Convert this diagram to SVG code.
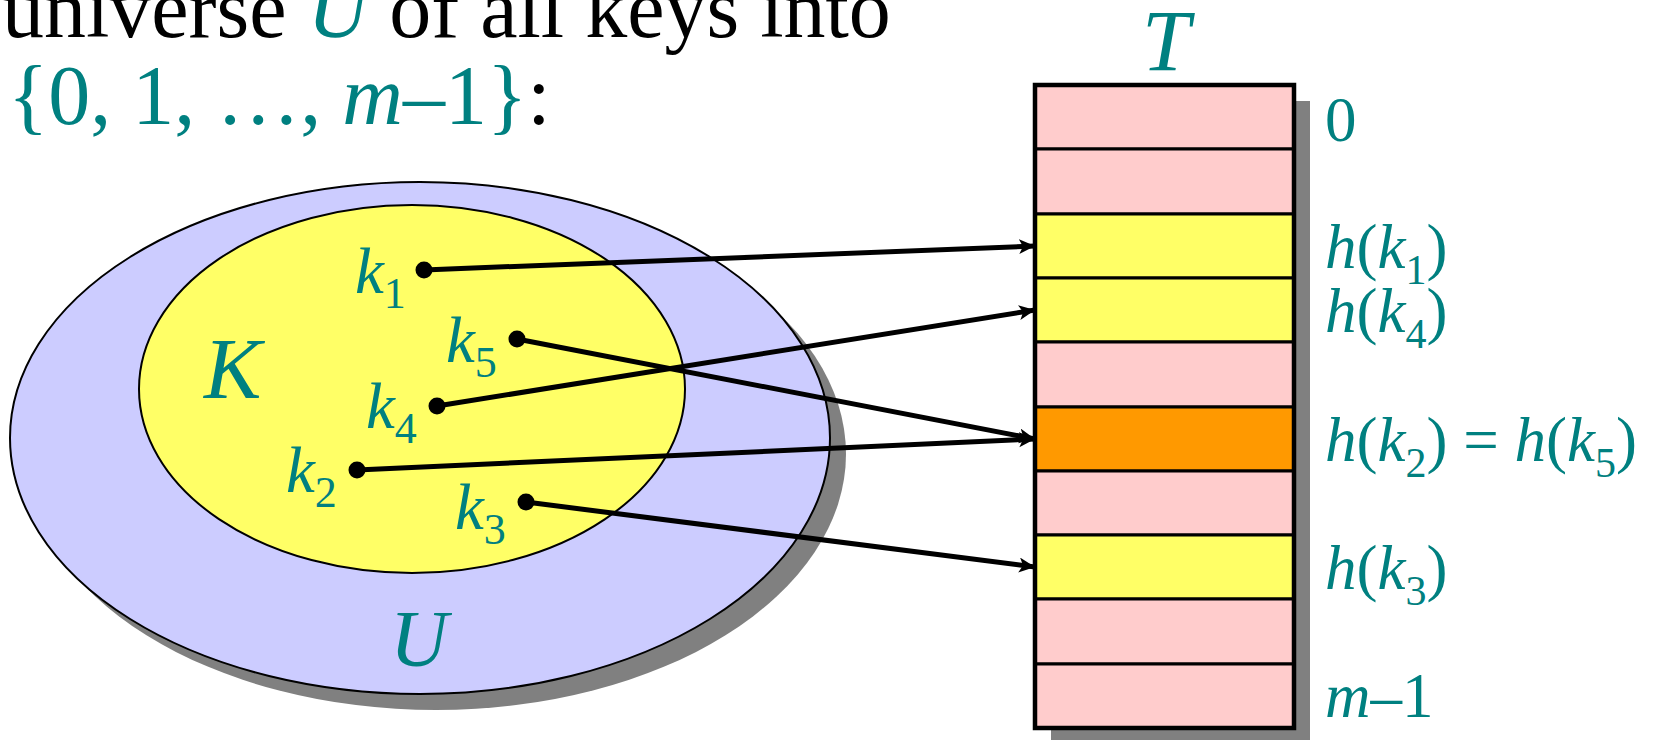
<svg xmlns="http://www.w3.org/2000/svg" width="1653" height="740" viewBox="0 0 1653 740">
<style>
.t{font-family:"Liberation Serif","Times New Roman",serif;}
.teal{fill:#008080;}
.blk{fill:#000;}
.it{font-style:italic;}
.lbl{font-size:63px;}
.key{font-size:65px;}
.row{stroke:#000;stroke-width:3;}
.conn{stroke:#000;stroke-width:5;fill:none;marker-end:url(#ah);}
</style>
<defs>
<marker id="ah" markerWidth="18" markerHeight="16" refX="16" refY="7.5" orient="auto" markerUnits="userSpaceOnUse">
<path d="M0,0 L16,7.5 L0,15 L4,7.5 Z" fill="#000"/>
</marker>
</defs>
<rect width="1653" height="740" fill="#fff"/>

<g id="title">
<text class="t" x="2" y="37" font-size="84"><tspan class="blk">universe </tspan><tspan class="teal it">U</tspan><tspan class="blk"> of all keys into</tspan></text>
<text class="t" x="8" y="124" font-size="84"><tspan class="teal">{0, 1, …, </tspan><tspan class="teal it">m</tspan><tspan class="teal">–1}</tspan><tspan class="blk">:</tspan></text>
</g>

<g id="universe">
<ellipse cx="436" cy="454" rx="410" ry="256" fill="#808080"/>
<ellipse cx="420" cy="438" rx="410" ry="256" fill="#CCCCFF" stroke="#000" stroke-width="2"/>
<text class="t teal it" x="390" y="666" font-size="80">U</text>
</g>

<g id="keys">
<ellipse cx="412" cy="389" rx="273" ry="184" fill="#FFFF66" stroke="#000" stroke-width="2"/>
<text class="t teal it" x="204" y="398" font-size="86">K</text>
</g>

<g id="table">
<rect x="1051" y="101" width="259" height="643" fill="#808080"/>
<rect x="1035" y="85" width="259" height="64" fill="#FFCCCC" class="row"/>
<rect x="1035" y="149" width="259" height="65" fill="#FFCCCC" class="row"/>
<rect x="1035" y="214" width="259" height="64" fill="#FFFF66" class="row"/>
<rect x="1035" y="278" width="259" height="64" fill="#FFFF66" class="row"/>
<rect x="1035" y="342" width="259" height="65" fill="#FFCCCC" class="row"/>
<rect x="1035" y="407" width="259" height="64" fill="#FF9900" class="row"/>
<rect x="1035" y="471" width="259" height="64" fill="#FFCCCC" class="row"/>
<rect x="1035" y="535" width="259" height="64" fill="#FFFF66" class="row"/>
<rect x="1035" y="599" width="259" height="65" fill="#FFCCCC" class="row"/>
<rect x="1035" y="664" width="259" height="64" fill="#FFCCCC" class="row"/>
<rect x="1035" y="85" width="259" height="643" fill="none" stroke="#000" stroke-width="4.5"/>
<text class="t teal it" x="1142" y="70" font-size="86">T</text>
</g>

<g id="slot-labels" class="t teal lbl">
<text x="1325" y="141">0</text>
<text x="1325" y="268"><tspan class="it">h</tspan>(<tspan class="it">k</tspan><tspan font-size="42" dy="16">1</tspan><tspan dy="-16">)</tspan></text>
<text x="1325" y="332"><tspan class="it">h</tspan>(<tspan class="it">k</tspan><tspan font-size="42" dy="16">4</tspan><tspan dy="-16">)</tspan></text>
<text x="1325" y="461"><tspan class="it">h</tspan>(<tspan class="it">k</tspan><tspan font-size="42" dy="16">2</tspan><tspan dy="-16">) = </tspan><tspan class="it">h</tspan>(<tspan class="it">k</tspan><tspan font-size="42" dy="16">5</tspan><tspan dy="-16">)</tspan></text>
<text x="1325" y="589"><tspan class="it">h</tspan>(<tspan class="it">k</tspan><tspan font-size="42" dy="16">3</tspan><tspan dy="-16">)</tspan></text>
<text x="1325" y="717"><tspan class="it">m</tspan>–1</text>
</g>

<g id="key-labels" class="t teal key">
<text x="355" y="293"><tspan class="it">k</tspan><tspan font-size="44" dy="15">1</tspan></text>
<text x="446" y="362"><tspan class="it">k</tspan><tspan font-size="44" dy="15">5</tspan></text>
<text x="366" y="428"><tspan class="it">k</tspan><tspan font-size="44" dy="15">4</tspan></text>
<text x="286" y="492"><tspan class="it">k</tspan><tspan font-size="44" dy="15">2</tspan></text>
<text x="455" y="529"><tspan class="it">k</tspan><tspan font-size="44" dy="15">3</tspan></text>
</g>

<g id="connectors">
<line class="conn" x1="424" y1="270" x2="1035" y2="246"/>
<line class="conn" x1="437" y1="406" x2="1035" y2="310"/>
<line class="conn" x1="517" y1="339" x2="1035" y2="439"/>
<line class="conn" x1="357" y1="470" x2="1035" y2="439"/>
<line class="conn" x1="526" y1="502" x2="1035" y2="567"/>
<g fill="#000">
<circle cx="424" cy="270" r="8.5"/>
<circle cx="517" cy="339" r="8.5"/>
<circle cx="437" cy="406" r="8.5"/>
<circle cx="357" cy="470" r="8.5"/>
<circle cx="526" cy="502" r="8.5"/>
</g>
</g>
</svg>
